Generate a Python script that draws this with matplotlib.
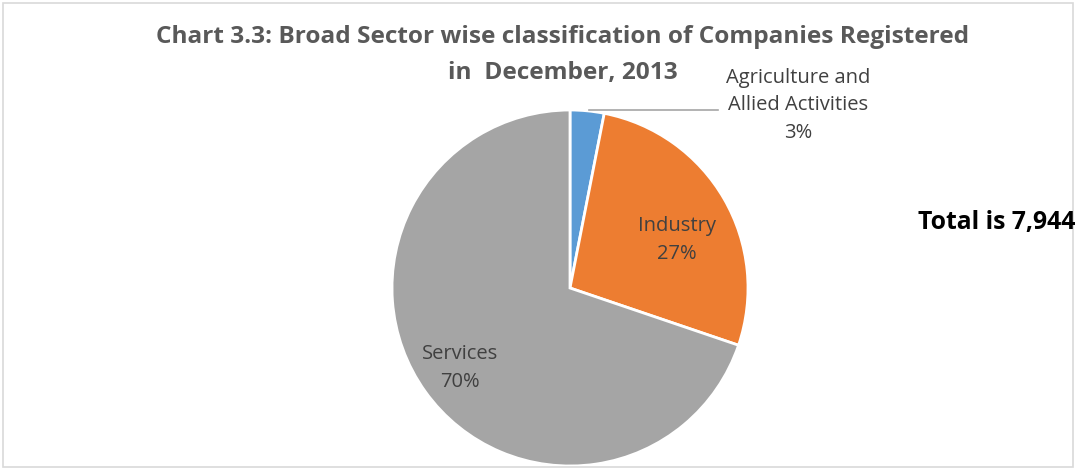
import matplotlib.pyplot as plt
from matplotlib.patches import Rectangle

# data
sectors = ['Agriculture and\nAllied Activities', 'Industry', 'Services']
companies = [245, 2155, 5544]
colors = ['#5b9bd5', '#ed7d31', '#a5a5a5']
total = sum(companies)

plt.rcParams['font.family'] = ['Open Sans', 'DejaVu Sans']

fig = plt.figure(figsize=(10.8, 4.71), dpi=100)
fig.patches.append(Rectangle((3 / 1080, 4 / 471), 1070 / 1080, 464 / 471,
                             transform=fig.transFigure, fill=False,
                             edgecolor='#d9d9d9', linewidth=1.2))

ax = fig.add_axes([392 / 1080, 5 / 471, 356 / 1080, 356 / 471])
ax.pie(companies, colors=colors, startangle=90, counterclock=False,
       wedgeprops=dict(edgecolor='white', linewidth=2))
ax.set_xlim(-1, 1)
ax.set_ylim(-1, 1)
ax.set_aspect('equal')
ax.set_axis_off()

# labels (positions in radius units)
pct = [round(v / total * 100) for v in companies]
lbl_pos = [(1.281, 1.028), (0.60, 0.27), (-0.618, -0.449)]
for name, p, (x, y) in zip(sectors, pct, lbl_pos):
    ax.text(x, y, f'{name}\n{p}%', ha='center', va='center', fontsize=14.5,
            color='#404040', linespacing=1.5, clip_on=False)
ax.plot([0.107, 0.83], [1.0, 1.0], color='#a6a6a6', linewidth=1.2,
        clip_on=False)

fig.text(563 / 1080, 1 - 37 / 471, 'Chart 3.3: Broad Sector wise classification of Companies Registered',
         ha='center', va='center', fontsize=17.6, fontweight='bold', color='#595959')
fig.text(563 / 1080, 1 - 73 / 471, 'in  December, 2013',
         ha='center', va='center', fontsize=17.6, fontweight='bold', color='#595959')
fig.text(1075 / 1080, 1 - 222 / 471, f'Total is {total:,}', ha='right', va='center',
         fontsize=17.8, fontweight='bold', color='black')

fig.savefig('out.png', dpi=100)
